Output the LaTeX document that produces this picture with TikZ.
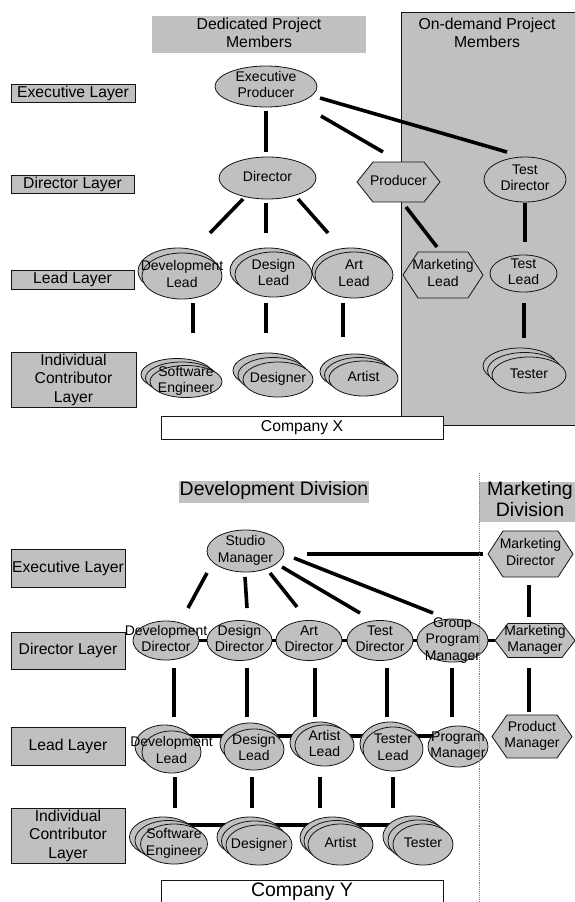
\documentclass[tikz,border=0pt]{standalone}
\usepackage{fontspec}
\setmainfont{Liberation Sans}
\usetikzlibrary{calc,backgrounds,shapes.geometric}
\definecolor{silv}{RGB}{192,192,192}
\definecolor{edgec}{RGB}{20,20,20}
\newcommand\tlab[1]{\makebox[0pt]{\smash{\raisebox{-.25em}{\begin{tabular}{@{}c@{}}#1\end{tabular}}}}}
\tikzset{
  ell/.style={ellipse, draw=edgec, line width=0.8pt, fill=silv, inner sep=0pt, font=\fontsize{14}{16.5}\selectfont},
  hexlab/.style={rectangle, inner sep=0pt, font=\fontsize{14}{16.5}\selectfont},
  hexshape/.style={draw=edgec, line width=0.8pt, fill=silv},
  layerbox/.style={rectangle, draw=edgec, line width=0.8pt, fill=silv, inner sep=0pt, font=\fontsize{15.7}{18.5}\selectfont},
  hdr/.style={rectangle, fill=silv, inner sep=0pt, font=\fontsize{15.8}{18}\selectfont},
  hdrtext/.style={rectangle, inner sep=0pt, font=\fontsize{15.8}{18}\selectfont},
  bighdr/.style={rectangle, fill=silv, inner sep=0pt, font=\fontsize{19.5}{21.5}\selectfont},
  compbox/.style={rectangle, draw=edgec, fill=white, line width=0.8pt, inner sep=0pt},
  conn/.style={line width=3.6pt, black},
}
\newcommand\eone[6]{\node[ell,minimum width=#4,minimum height=#5] (#1) at (#2,#3) {\tlab{#6}};}
\newcommand\etwo[8]{%
  \node[ell,minimum width=#4,minimum height=#5] (#1-b) at ({#2-#6},{#3-#7}) {};
  \node[ell,minimum width=#4,minimum height=#5] (#1) at (#2,#3) {\tlab{#8}};}
\newcommand\ethree[8]{%
  \node[ell,minimum width=#4,minimum height=#5] (#1-c) at ({#2-2*#6},{#3-2*#7}) {};
  \node[ell,minimum width=#4,minimum height=#5] (#1-b) at ({#2-#6},{#3-#7}) {};
  \node[ell,minimum width=#4,minimum height=#5] (#1) at (#2,#3) {\tlab{#8}};}
\newcommand\hexa[7]{%
  \path[hexshape] ({#2-#4/2},#3) -- ({#2-#4/2+#6},{#3-#5/2}) -- ({#2+#4/2-#6},{#3-#5/2})
    -- ({#2+#4/2},#3) -- ({#2+#4/2-#6},{#3+#5/2}) -- ({#2-#4/2+#6},{#3+#5/2}) -- cycle;
  \node[hexlab,minimum width=#4,minimum height=#5] (#1) at (#2,#3) {\tlab{#7}};}
\begin{document}
\begin{tikzpicture}[x=1pt,y=-1pt]
\useasboundingbox (0,0) rectangle (575,902);
% ================= Company X =================
\path[fill=silv, draw=edgec, line width=0.8pt] (401,12) rectangle (580,425);
\node[hdrtext] (ondem) at (487,35) {\tlab{On-demand Project\\Members}};
\node[hdr, minimum width=214, minimum height=37] (dedic) at (259,34.5) {\tlab{Dedicated Project\\Members}};
\node[layerbox, minimum width=124, minimum height=18] (exlX) at (73,93) {\tlab{Executive Layer}};
\node[layerbox, minimum width=123, minimum height=18] (dlX) at (72.5,184) {\tlab{Director Layer}};
\node[layerbox, minimum width=123, minimum height=19] (llX) at (72.5,279.5) {\tlab{Lead Layer}};
\node[layerbox, minimum width=125, minimum height=55] (ilX) at (73.5,379.5) {\tlab{Individual\\Contributor\\Layer}};
\node[compbox, minimum width=282, minimum height=23, font=\fontsize{15.7}{18.5}\selectfont] (compX) at (302,427.5) {\tlab{Company X}};

\eone{ep}{266}{86.5}{102}{41}{Executive\\Producer}
\eone{dir}{267.5}{178}{97}{42}{Director}
\hexa{prod}{398.5}{182}{83}{40}{16}{Producer}
\eone{td}{525}{179.5}{82}{45}{Test\\Director}
\etwo{devl}{182}{276}{80}{46}{4}{5}{Development\\Lead}
\etwo{desl}{273.5}{274.5}{77}{45}{5}{4}{Design\\Lead}
\etwo{artl}{354}{275}{78}{46}{3}{4}{Art\\Lead}
\hexa{mktl}{443}{275}{80}{46}{15}{Marketing\\Lead}
\eone{testl}{523.5}{273.5}{67}{37}{Test\\Lead}
\ethree{swe}{186}{381.5}{72}{32}{4.5}{3.5}{Software\\Engineer}
\ethree{dsgn}{278}{379.5}{70}{35}{5}{4.5}{Designer}
\ethree{arts}{363.5}{378.5}{69}{35}{4.5}{3.5}{Artist}
\ethree{tstr}{529}{375}{74}{36}{4.5}{4.5}{Tester}

\draw[conn] ($(ep)+(0,24.5)$) -- ($(dir)+(-1.5,-26)$);
\draw[conn] ($(ep)+(55,29.5)$) -- ($(prod)+(-15.5,-30)$);
\draw[conn] ($(ep)+(54,11.5)$) -- ($(td)+(-18,-27.5)$);
\draw[conn] ($(dir)+(-24.5,21)$) -- ($(devl)+(28,-43)$);
\draw[conn] ($(dir)+(-1.5,25)$) -- ($(desl)+(-7.5,-41.5)$);
\draw[conn] ($(dir)+(30.5,21)$) -- ($(artl)+(-26,-42)$);
\draw[conn] ($(prod)+(7.5,25)$) -- ($(mktl)+(-6,-28)$);
\draw[conn] ($(td)+(0,23.5)$) -- ($(testl)+(1.5,-31.5)$);
\draw[conn] ($(devl)+(11,27)$) -- ($(swe)+(7,-48.5)$);
\draw[conn] ($(desl)+(-7.5,28.5)$) -- ($(dsgn)+(-12,-46.5)$);
\draw[conn] ($(artl)+(-11,28)$) -- ($(arts)+(-20.5,-41.5)$);
\draw[conn] ($(testl)+(0.5,29.5)$) -- ($(tstr)+(-5,-37)$);

% ================= Company Y =================
\node[bighdr, minimum width=190, minimum height=22] (devdiv) at (274,492) {\tlab{Development Division}};
\node[bighdr, minimum width=102, minimum height=40] (mktdiv) at (530,502) {\tlab{Marketing\\Division}};
\node[layerbox, minimum width=114, minimum height=38] (exlY) at (68,568) {\tlab{Executive Layer}};
\node[layerbox, minimum width=114, minimum height=37] (dlY) at (68,650.5) {\tlab{Director Layer}};
\node[layerbox, minimum width=114, minimum height=38] (llY) at (68,746) {\tlab{Lead Layer}};
\node[layerbox, minimum width=114, minimum height=55] (ilY) at (68,835.5) {\tlab{Individual\\Contributor\\Layer}};
\node[compbox, minimum width=282, minimum height=24, font=\fontsize{19.5}{23}\selectfont] (compY) at (302,892) {\tlab{Company Y}};

\eone{sm}{245.5}{551}{77}{42}{Studio\\Manager}
\hexa{mkd}{530.5}{554}{85}{46}{15}{Marketing\\Director}
\eone{dd}{166}{640.5}{66}{39}{Development\\Director}
\eone{desd}{239.5}{640.5}{65}{40}{Design\\Director}
\eone{ad}{309}{640.5}{66}{40}{Art\\Director}
\eone{tdir}{380}{640.5}{66}{40}{Test\\Director}
\eone{gpm}{452.5}{640.5}{71}{43}{Group\\Program\\Manager}
\hexa{mkm}{535}{640.5}{80}{34}{13}{Marketing\\Manager}
\etwo{dl}{171.5}{752}{59}{42}{7}{6}{Development\\Lead}
\etwo{dsl}{254}{749.5}{60}{41}{4}{6}{Design\\Lead}
\etwo{al}{324.5}{745.5}{59}{41}{5}{3}{Artist\\Lead}
\etwo{tl}{393}{749}{60}{44}{3}{5}{Tester\\Lead}
\eone{pm}{458}{746.5}{60}{41}{Program\\Manager}
\hexa{prm}{532}{736.5}{80}{43}{15}{Product\\Manager}
\ethree{se}{174}{844}{67}{40}{5.5}{3.5}{Software\\Engineer}
\ethree{dsg}{259}{845}{66}{40}{4.5}{4}{Designer}
\ethree{art}{340.5}{844.5}{65}{41}{4}{3.5}{Artist}
\ethree{tst}{423}{844.5}{60}{41}{5}{4}{Tester}

\begin{pgfonlayer}{background}
\draw[conn] ($(dl)+(0,-16)$) -- ($(pm)+(0,-10.5)$);
\draw[conn] ($(se)+(0,-19)$) -- ($(tst)+(0,-19.5)$);
\end{pgfonlayer}

\draw[conn] ($(sm)+(-38.5,22)$) -- ($(dd)+(22,-32.5)$);
\draw[conn] ($(sm)+(-0.5,26)$) -- ($(desd)+(7.5,-32.5)$);
\draw[conn] ($(sm)+(24.5,22)$) -- ($(ad)+(-12,-33.5)$);
\draw[conn] ($(sm)+(36.5,16)$) -- ($(tdir)+(-20,-27.5)$);
\draw[conn] ($(sm)+(48.5,7)$) -- ($(gpm)+(-19.5,-27.5)$);
\draw[conn] ($(sm)+(61.5,3)$) -- ($(mkd)+(-47.5,0)$);
\draw[conn] ($(mkd)+(-1.5,31)$) -- ($(mkm)+(-6,-23.5)$);
\draw[conn] (dd) -- (desd);
\draw[conn] (desd) -- (ad);
\draw[conn] (ad) -- (tdir);
\draw[conn] (tdir) -- (gpm);
\draw[conn] (gpm) -- (mkm);
\draw[conn] ($(dd)+(8,27.5)$) -- ($(dl)+(2.5,-35)$);
\draw[conn] ($(desd)+(7.5,27.5)$) -- ($(dsl)+(-7,-32.5)$);
\draw[conn] ($(ad)+(6,27.5)$) -- ($(al)+(-9.5,-28.5)$);
\draw[conn] ($(tdir)+(7,27.5)$) -- ($(tl)+(-6,-32)$);
\draw[conn] ($(gpm)+(-0.5,27.5)$) -- ($(pm)+(-6,-29.5)$);
\draw[conn] ($(mkm)+(-6,27.5)$) -- ($(prm)+(-3,-24.5)$);
\draw[conn] ($(dl)+(3.5,25)$) -- ($(se)+(1,-36)$);
\draw[conn] ($(dsl)+(-2,27.5)$) -- ($(dsg)+(-7,-37)$);
\draw[conn] ($(al)+(-4.5,31.5)$) -- ($(art)+(-20.5,-36.5)$);
\draw[conn] ($(tl)+(0,28)$) -- ($(tst)+(-30,-36.5)$);

\draw[gray, densely dotted, line width=0.9pt] (479,473) -- (479,905);
\end{tikzpicture}
\end{document}
